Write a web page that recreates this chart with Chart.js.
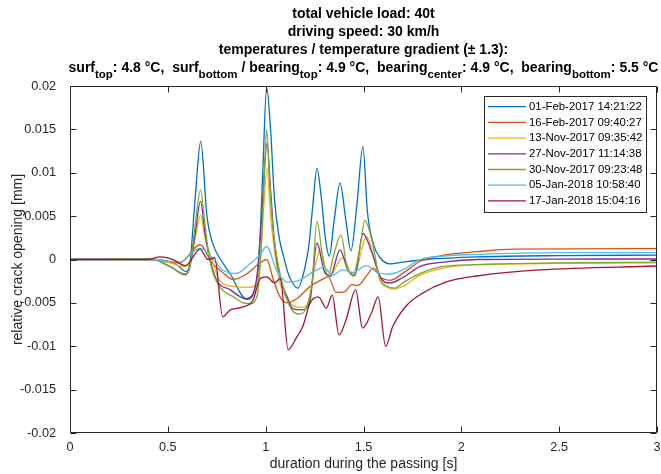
<!DOCTYPE html>
<html>
<head>
<meta charset="utf-8">
<script src="https://cdn.jsdelivr.net/npm/chart.js@4.4.1/dist/chart.umd.min.js"></script>
<style>
  html, body { margin: 0; padding: 0; background: #fff; }
  #wrap { width: 661px; height: 474px; }
</style>
</head>
<body>
<div id="wrap"><canvas id="crackChart" width="661" height="474"></canvas></div>
<script>
// ==========================================
// DATA (crack opening values in 1e-3 mm)
// ==========================================
const seriesLabels = [
    "01-Feb-2017 14:21:22",
    "16-Feb-2017 09:40:27",
    "13-Nov-2017 09:35:42",
    "27-Nov-2017 11:14:38",
    "30-Nov-2017 09:23:48",
    "05-Jan-2018 10:58:40",
    "17-Jan-2018 15:04:16"
];
const seriesColors = ["#0072BD", "#D95319", "#EDB120", "#7E2F8E", "#77AC30", "#4DBEEE", "#A2142F"];

const feb01Time = [0, 0.4, 0.5, 0.545, 0.596, 0.615, 0.64, 0.668, 0.70, 0.73, 0.77, 0.82, 0.9, 0.955, 0.97, 0.985, 1.005, 1.025, 1.045, 1.07, 1.09, 1.115, 1.165, 1.2, 1.22, 1.24, 1.262, 1.285, 1.305, 1.325, 1.35, 1.38, 1.41, 1.436, 1.465, 1.497, 1.52, 1.55, 1.585, 1.635, 1.70, 1.82, 2.08, 2.5, 3.0];
const feb01Open = [0, 0, -0.2, -0.6, -1.4, 0, 7.2, 13.6, 5.0, 1.8, 0, -1.7, -4.5, -2.4, 2.0, 10.0, 19.8, 15.0, 7.0, 2.4, 0.5, -1.6, -3.3, -1.0, 1.5, 6.0, 10.5, 7.0, 2.5, 0.4, 4.5, 8.8, 4.5, 1.0, 6.0, 13.0, 5.5, 1.8, 0.2, -0.5, -0.3, 0, 0.3, 0.45, 0.5];

const feb16Time = [0, 0.4, 0.56, 0.665, 0.725, 0.765, 0.835, 0.9, 0.97, 1.005, 1.04, 1.073, 1.11, 1.16, 1.227, 1.28, 1.32, 1.36, 1.405, 1.44, 1.47, 1.515, 1.55, 1.59, 1.635, 1.70, 1.79, 1.91, 2.08, 2.27, 3.0];
const feb16Open = [0, 0, -0.4, 1.7, -0.4, -1.2, -2.3, -1.7, -0.4, 0.0, -2.4, -4.3, -5.0, -4.5, -3.1, -2.4, -2.0, -3.8, -3.7, -2.9, -3.0, -1.9, -1.0, -2.1, -2.4, -1.6, -0.2, 0.5, 0.9, 1.2, 1.25];

const nov13Time = [0, 0.41, 0.51, 0.58, 0.613, 0.64, 0.667, 0.69, 0.715, 0.765, 0.835, 0.92, 0.955, 0.975, 0.99, 1.007, 1.025, 1.045, 1.073, 1.125, 1.16, 1.21, 1.245, 1.28, 1.32, 1.395, 1.447, 1.517, 1.56, 1.60, 1.65, 1.70, 1.79, 1.91, 2.08, 2.5, 3.0];
const nov13Open = [0, 0.1, -0.4, -0.8, -0.3, 2.5, 5.1, 2.5, 0.7, -2.4, -3.1, -3.2, -2.7, 0.5, 6.0, 10.5, 5.0, 1.0, -2.7, -5.0, -5.5, -5.4, -1.6, 1.1, -2.1, 0.2, -2.0, 2.6, -0.4, -2.7, -3.4, -3.1, -1.8, -1.0, -0.6, -0.45, -0.4];

const nov27Time = [0, 0.41, 0.51, 0.59, 0.613, 0.64, 0.667, 0.69, 0.71, 0.75, 0.82, 0.87, 0.905, 0.935, 0.96, 0.98, 1.007, 1.025, 1.045, 1.073, 1.11, 1.14, 1.185, 1.227, 1.262, 1.30, 1.33, 1.38, 1.42, 1.456, 1.497, 1.543, 1.585, 1.635, 1.70, 1.79, 1.91, 2.08, 2.5, 3.0];
const nov27Open = [0, 0.1, -0.8, -1.7, -0.8, 3.0, 6.7, 3.0, 0.5, -2.4, -3.5, -4.3, -4.6, -4.1, -1.0, 5.0, 13.4, 8.0, 2.0, -2.0, -4.3, -5.7, -5.8, -4.7, 1.9, -1.4, -1.9, 1.1, -1.2, -1.8, 3.0, 0.8, -2.0, -2.7, -2.1, -0.8, -0.3, 0, 0.05, 0.06];

const nov30Time = [0, 0.41, 0.51, 0.59, 0.613, 0.64, 0.667, 0.69, 0.705, 0.73, 0.77, 0.835, 0.885, 0.92, 0.955, 0.975, 0.99, 1.005, 1.02, 1.04, 1.073, 1.11, 1.14, 1.175, 1.21, 1.237, 1.262, 1.293, 1.32, 1.35, 1.385, 1.415, 1.447, 1.48, 1.507, 1.543, 1.585, 1.62, 1.66, 1.70, 1.79, 1.91, 2.08, 2.5, 3.0];
const nov30Open = [0, 0.1, -0.8, -1.8, -0.8, 4.0, 8.0, 4.0, 1.2, -1.5, -3.3, -4.3, -5.0, -5.1, -4.3, 0.5, 8.0, 15.0, 9.0, 3.0, -1.6, -4.7, -6.0, -6.3, -5.4, -2.7, 4.4, 0, -1.8, 0.7, 2.8, -0.8, -1.8, 1.1, 4.5, 2.2, -2.4, -3.1, -3.3, -2.7, -1.6, -0.8, -0.6, -0.4, -0.3];

const jan05Time = [0, 0.4, 0.56, 0.665, 0.725, 0.78, 0.85, 0.92, 0.97, 1.005, 1.055, 1.11, 1.16, 1.245, 1.295, 1.345, 1.39, 1.445, 1.515, 1.57, 1.63, 1.70, 1.79, 1.91, 2.08, 2.5, 3.0];
const jan05Open = [0, 0, -0.3, 1.3, 0.2, -1.2, -1.6, -0.5, 0.5, 1.5, -1.2, -2.6, -2.5, -1.4, -0.9, -1.8, -1.2, -1.5, -0.7, -1.5, -1.7, -1.2, 0, 0.4, 0.6, 0.8, 0.8];

const jan17Time = [0, 0.4, 0.46, 0.52, 0.59, 0.665, 0.705, 0.74, 0.78, 0.82, 0.88, 0.935, 0.972, 1.005, 1.045, 1.075, 1.115, 1.16, 1.19, 1.227, 1.27, 1.31, 1.34, 1.375, 1.41, 1.46, 1.495, 1.54, 1.575, 1.613, 1.65, 1.72, 1.8, 1.92, 2.08, 2.4, 3.0];
const jan17Open = [0, 0, 0.3, 0.05, -0.7, 1.2, 0.0, 0.2, -6.6, -5.8, -5.5, -4.7, -2.2, -2.0, -2.7, -2.2, -10.4, -8.9, -7.7, -5.0, -4.3, -5.6, -4.1, -8.7, -7.0, -3.5, -7.9, -6.2, -4.3, -10.0, -7.7, -5.3, -3.9, -2.6, -1.9, -1.2, -0.75];

const seriesTimes = [feb01Time, feb16Time, nov13Time, nov27Time, nov30Time, jan05Time, jan17Time];
const seriesValues = [feb01Open, feb16Open, nov13Open, nov27Open, nov30Open, jan05Open, jan17Open];

const xTicks = [0, 0.5, 1, 1.5, 2, 2.5, 3];
const yTickLabels = ["-0.02", "-0.015", "-0.01", "-0.005", "0", "0.005", "0.01", "0.015", "0.02"];

// title parts, sub = subscript
const titleLines = [
    [{ text: "total vehicle load: 40t" }],
    [{ text: "driving speed: 30 km/h" }],
    [{ text: "temperatures / temperature gradient (\u00b1 1.3):" }],
    [
        { text: "surf" }, { text: "top", sub: true },
        { text: ": 4.8 \u00b0C,  surf" }, { text: "bottom", sub: true },
        { text: " / bearing" }, { text: "top", sub: true },
        { text: ": 4.9 \u00b0C,  bearing" }, { text: "center", sub: true },
        { text: ": 4.9 \u00b0C,  bearing" }, { text: "bottom", sub: true },
        { text: ": 5.5 \u00b0C" }
    ]
];

const FONT = '"Liberation Sans", Arial, Helvetica, sans-serif';
const AXIS_COLOR = "#262626";

// ==========================================
// PLUGINS: MATLAB-like box, title and legend
// ==========================================
const axesFramePlugin = {
    id: "axesFrame",
    afterDatasetsDraw(chart) {
        const { ctx, chartArea: a, scales } = chart;
        const L = Math.round(a.left) + 0.5, R = Math.round(a.right) - 0.5;
        const T = Math.round(a.top) + 0.5, B = Math.round(a.bottom) - 0.5;
        const tick = 6;
        ctx.save();
        ctx.strokeStyle = AXIS_COLOR;
        ctx.lineWidth = 1;
        ctx.beginPath();
        ctx.rect(L, T, R - L, B - T);
        xTicks.forEach(v => {
            const px = Math.round(scales.x.getPixelForValue(v)) + 0.5;
            ctx.moveTo(px, B); ctx.lineTo(px, B - tick);
            ctx.moveTo(px, T); ctx.lineTo(px, T + tick);
        });
        yTickLabels.forEach(lbl => {
            const py = Math.round(scales.y.getPixelForValue(Number(lbl))) + 0.5;
            ctx.moveTo(L, py); ctx.lineTo(L + tick, py);
            ctx.moveTo(R, py); ctx.lineTo(R - tick, py);
        });
        ctx.stroke();
        ctx.restore();
    }
};

const titlePlugin = {
    id: "multiTitle",
    afterDraw(chart) {
        const { ctx, chartArea } = chart;
        const cx = (chartArea.left + chartArea.right) / 2;
        const mainFont = "bold 14px " + FONT;
        const subFont = "bold 11.5px " + FONT;
        ctx.save();
        ctx.fillStyle = "#000";
        ctx.textBaseline = "middle";
        ctx.textAlign = "left";
        titleLines.forEach((parts, i) => {
            const y = 14 + i * 18;
            let total = 0;
            parts.forEach(p => {
                ctx.font = p.sub ? subFont : mainFont;
                total += ctx.measureText(p.text).width;
            });
            let x = cx - total / 2;
            parts.forEach(p => {
                ctx.font = p.sub ? subFont : mainFont;
                ctx.fillText(p.text, x, p.sub ? y + 7 : y);
                x += ctx.measureText(p.text).width;
            });
        });
        ctx.restore();
    }
};

const legendBoxPlugin = {
    id: "legendBox",
    afterDraw(chart) {
        const { ctx, chartArea } = chart;
        const lineLen = 38, rowH = 15.7;
        ctx.save();
        ctx.font = "11.4px " + FONT;
        const maxText = Math.max(...seriesLabels.map(s => ctx.measureText(s).width));
        const width = 4 + lineLen + 3 + maxText + 5;
        const height = 10.7 * 2 + rowH * (seriesLabels.length - 1);
        const right = Math.round(chartArea.right) - 10;
        const left = Math.round(right - width);
        const top = Math.round(chartArea.top) + 10;

        ctx.fillStyle = "#fff";
        ctx.fillRect(left, top, right - left, height);
        ctx.strokeStyle = AXIS_COLOR;
        ctx.lineWidth = 1;
        ctx.strokeRect(left + 0.5, top + 0.5, right - left - 1, Math.round(height));

        ctx.textBaseline = "middle";
        ctx.textAlign = "left";
        seriesLabels.forEach((lbl, i) => {
            const y = top + 10.7 + i * rowH;
            ctx.strokeStyle = seriesColors[i];
            ctx.lineWidth = 1.3;
            ctx.beginPath();
            ctx.moveTo(left + 4, y);
            ctx.lineTo(left + 4 + lineLen, y);
            ctx.stroke();
            ctx.fillStyle = "#000";
            ctx.fillText(lbl, left + 4 + lineLen + 3, y);
        });
        ctx.restore();
    }
};

// ==========================================
// CHART
// ==========================================
function toPoints(times, values) {
    return times.map((t, i) => ({ x: t, y: values[i] / 1000 }));
}

function renderChart() {
    const ctx = document.getElementById("crackChart").getContext("2d");

    const datasets = seriesLabels.map((label, i) => ({
        label: label,
        data: toPoints(seriesTimes[i], seriesValues[i]),
        borderColor: seriesColors[i],
        backgroundColor: seriesColors[i],
        borderWidth: 1.3,
        pointRadius: 0,
        cubicInterpolationMode: "monotone",
        fill: false,
        order: seriesLabels.length - i // later series on top, like MATLAB
    }));

    new Chart(ctx, {
        type: "line",
        data: { datasets: datasets },
        options: {
            responsive: false,
            animation: false,
            devicePixelRatio: 1,
            layout: { padding: { top: 86, right: 0, left: 0, bottom: 0 } },
            plugins: {
                legend: { display: false },
                title: { display: false },
                tooltip: { enabled: false }
            },
            scales: {
                x: {
                    type: "linear",
                    min: 0,
                    max: 3,
                    afterFit: s => { s.height = 41; s.paddingLeft = 0; s.paddingRight = 4; },
                    afterBuildTicks: s => { s.ticks = xTicks.map(v => ({ value: v })); },
                    grid: { display: false },
                    border: { display: false },
                    ticks: {
                        padding: -1,
                        maxRotation: 0,
                        color: AXIS_COLOR,
                        font: { family: FONT, size: 12.7 },
                        callback: v => String(v)
                    },
                    title: {
                        display: true,
                        text: "duration during the passing [s]",
                        color: AXIS_COLOR,
                        font: { family: FONT, size: 14 },
                        padding: { top: 0, bottom: 1 }
                    }
                },
                y: {
                    type: "linear",
                    min: -0.02,
                    max: 0.02,
                    afterFit: s => { s.width = 70; },
                    afterBuildTicks: s => { s.ticks = yTickLabels.map(l => ({ value: Number(l) })); },
                    grid: { display: false },
                    border: { display: false },
                    ticks: {
                        padding: 6,
                        color: AXIS_COLOR,
                        font: { family: FONT, size: 12.7 },
                        callback: (v, i) => yTickLabels[i]
                    },
                    title: {
                        display: true,
                        text: "relative crack opening [mm]",
                        color: AXIS_COLOR,
                        font: { family: FONT, size: 14 },
                        padding: { top: 10, bottom: 0 }
                    }
                }
            }
        },
        plugins: [axesFramePlugin, titlePlugin, legendBoxPlugin]
    });
}

renderChart();
</script>
</body>
</html>
